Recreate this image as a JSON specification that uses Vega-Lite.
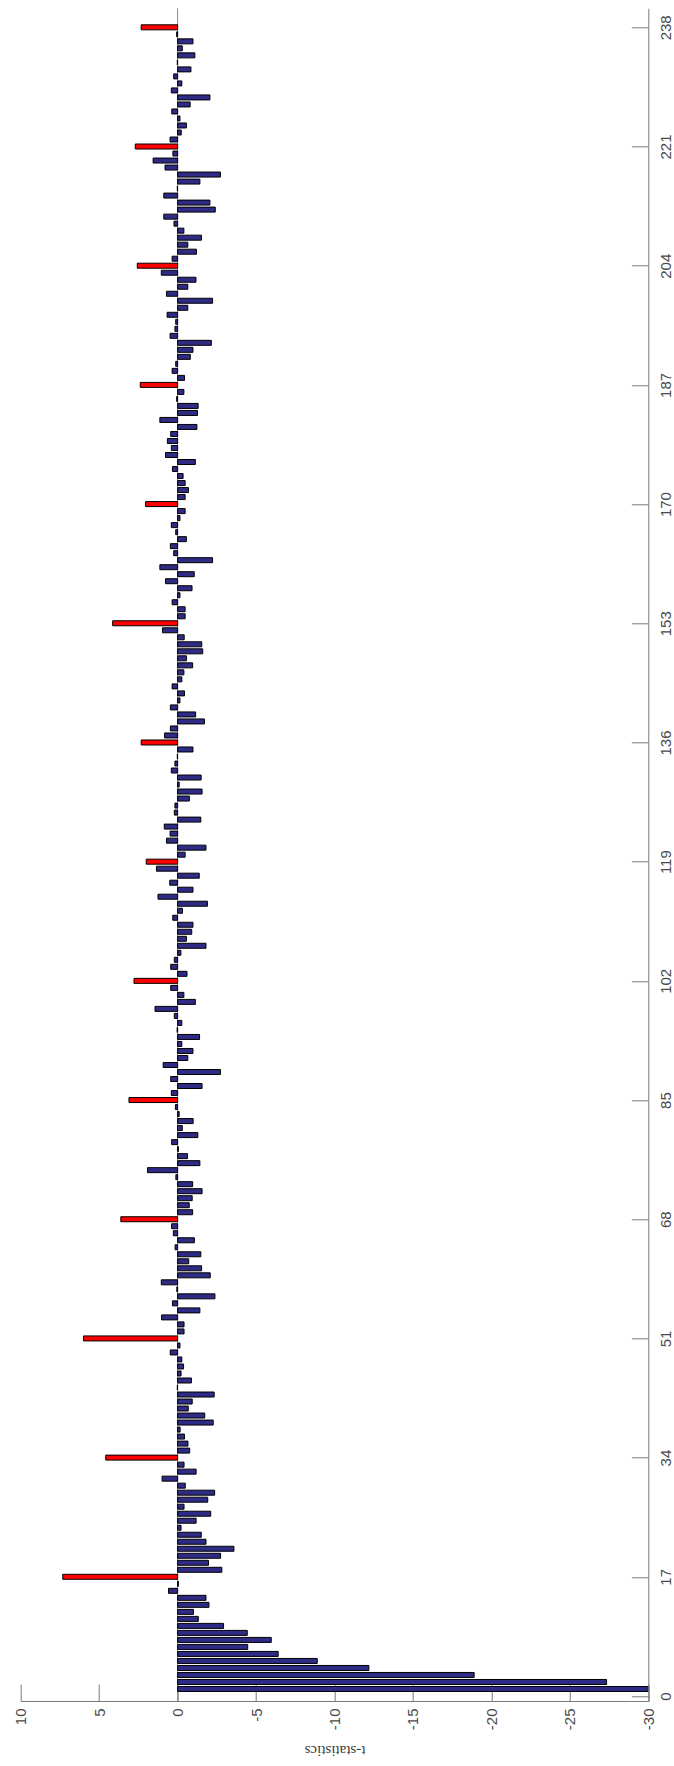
{
  "$schema": "https://vega.github.io/schema/vega-lite/v6.json",
  "autosize": {"type": "none"},
  "width": 627.6,
  "height": 1692.7,
  "padding": {"left": 20.7, "top": 8.3, "right": 25.7, "bottom": 65},
  "background": "white",
  "config": {"view": {"stroke": null}, "axis": {"grid": false}},
  "data": {
    "values": [
      {"lag": 1, "t": -30, "kind": "other"},
      {"lag": 2, "t": -27.34, "kind": "other"},
      {"lag": 3, "t": -18.9, "kind": "other"},
      {"lag": 4, "t": -12.19, "kind": "other"},
      {"lag": 5, "t": -8.9, "kind": "other"},
      {"lag": 6, "t": -6.41, "kind": "other"},
      {"lag": 7, "t": -4.47, "kind": "other"},
      {"lag": 8, "t": -5.97, "kind": "other"},
      {"lag": 9, "t": -4.44, "kind": "other"},
      {"lag": 10, "t": -2.93, "kind": "other"},
      {"lag": 11, "t": -1.32, "kind": "other"},
      {"lag": 12, "t": -1.01, "kind": "other"},
      {"lag": 13, "t": -2.0, "kind": "other"},
      {"lag": 14, "t": -1.81, "kind": "other"},
      {"lag": 15, "t": 0.58, "kind": "other"},
      {"lag": 16, "t": -0.05, "kind": "other"},
      {"lag": 17, "t": 7.32, "kind": "seasonal"},
      {"lag": 18, "t": -2.82, "kind": "other"},
      {"lag": 19, "t": -1.97, "kind": "other"},
      {"lag": 20, "t": -2.74, "kind": "other"},
      {"lag": 21, "t": -3.59, "kind": "other"},
      {"lag": 22, "t": -1.81, "kind": "other"},
      {"lag": 23, "t": -1.51, "kind": "other"},
      {"lag": 24, "t": -0.22, "kind": "other"},
      {"lag": 25, "t": -1.18, "kind": "other"},
      {"lag": 26, "t": -2.11, "kind": "other"},
      {"lag": 27, "t": -0.41, "kind": "other"},
      {"lag": 28, "t": -1.92, "kind": "other"},
      {"lag": 29, "t": -2.36, "kind": "other"},
      {"lag": 30, "t": -0.49, "kind": "other"},
      {"lag": 31, "t": 0.99, "kind": "other"},
      {"lag": 32, "t": -1.18, "kind": "other"},
      {"lag": 33, "t": -0.41, "kind": "other"},
      {"lag": 34, "t": 4.58, "kind": "seasonal"},
      {"lag": 35, "t": -0.77, "kind": "other"},
      {"lag": 36, "t": -0.66, "kind": "other"},
      {"lag": 37, "t": -0.44, "kind": "other"},
      {"lag": 38, "t": -0.16, "kind": "other"},
      {"lag": 39, "t": -2.27, "kind": "other"},
      {"lag": 40, "t": -1.73, "kind": "other"},
      {"lag": 41, "t": -0.68, "kind": "other"},
      {"lag": 42, "t": -0.93, "kind": "other"},
      {"lag": 43, "t": -2.33, "kind": "other"},
      {"lag": 44, "t": 0.02, "kind": "other"},
      {"lag": 45, "t": -0.88, "kind": "other"},
      {"lag": 46, "t": -0.22, "kind": "other"},
      {"lag": 47, "t": -0.38, "kind": "other"},
      {"lag": 48, "t": -0.27, "kind": "other"},
      {"lag": 49, "t": 0.47, "kind": "other"},
      {"lag": 50, "t": -0.15, "kind": "other"},
      {"lag": 51, "t": 6.0, "kind": "seasonal"},
      {"lag": 52, "t": -0.41, "kind": "other"},
      {"lag": 53, "t": -0.41, "kind": "other"},
      {"lag": 54, "t": 1.02, "kind": "other"},
      {"lag": 55, "t": -1.42, "kind": "other"},
      {"lag": 56, "t": 0.33, "kind": "other"},
      {"lag": 57, "t": -2.38, "kind": "other"},
      {"lag": 58, "t": 0.05, "kind": "other"},
      {"lag": 59, "t": 1.04, "kind": "other"},
      {"lag": 60, "t": -2.08, "kind": "other"},
      {"lag": 61, "t": -1.53, "kind": "other"},
      {"lag": 62, "t": -0.71, "kind": "other"},
      {"lag": 63, "t": -1.48, "kind": "other"},
      {"lag": 64, "t": 0.16, "kind": "other"},
      {"lag": 65, "t": -1.07, "kind": "other"},
      {"lag": 66, "t": 0.27, "kind": "other"},
      {"lag": 67, "t": 0.38, "kind": "other"},
      {"lag": 68, "t": 3.62, "kind": "seasonal"},
      {"lag": 69, "t": -0.96, "kind": "other"},
      {"lag": 70, "t": -0.74, "kind": "other"},
      {"lag": 71, "t": -0.93, "kind": "other"},
      {"lag": 72, "t": -1.56, "kind": "other"},
      {"lag": 73, "t": -0.96, "kind": "other"},
      {"lag": 74, "t": 0.11, "kind": "other"},
      {"lag": 75, "t": 1.92, "kind": "other"},
      {"lag": 76, "t": -1.42, "kind": "other"},
      {"lag": 77, "t": -0.63, "kind": "other"},
      {"lag": 78, "t": -0.05, "kind": "other"},
      {"lag": 79, "t": 0.38, "kind": "other"},
      {"lag": 80, "t": -1.29, "kind": "other"},
      {"lag": 81, "t": -0.3, "kind": "other"},
      {"lag": 82, "t": -0.99, "kind": "other"},
      {"lag": 83, "t": -0.1, "kind": "other"},
      {"lag": 84, "t": 0.14, "kind": "other"},
      {"lag": 85, "t": 3.1, "kind": "seasonal"},
      {"lag": 86, "t": 0.4, "kind": "other"},
      {"lag": 87, "t": -1.56, "kind": "other"},
      {"lag": 88, "t": 0.44, "kind": "other"},
      {"lag": 89, "t": -2.73, "kind": "other"},
      {"lag": 90, "t": 0.92, "kind": "other"},
      {"lag": 91, "t": -0.65, "kind": "other"},
      {"lag": 92, "t": -0.98, "kind": "other"},
      {"lag": 93, "t": -0.27, "kind": "other"},
      {"lag": 94, "t": -1.4, "kind": "other"},
      {"lag": 95, "t": 0.03, "kind": "other"},
      {"lag": 96, "t": -0.27, "kind": "other"},
      {"lag": 97, "t": 0.21, "kind": "other"},
      {"lag": 98, "t": 1.44, "kind": "other"},
      {"lag": 99, "t": -1.13, "kind": "other"},
      {"lag": 100, "t": -0.4, "kind": "other"},
      {"lag": 101, "t": 0.44, "kind": "other"},
      {"lag": 102, "t": 2.78, "kind": "seasonal"},
      {"lag": 103, "t": -0.6, "kind": "other"},
      {"lag": 104, "t": 0.44, "kind": "other"},
      {"lag": 105, "t": 0.21, "kind": "other"},
      {"lag": 106, "t": -0.21, "kind": "other"},
      {"lag": 107, "t": -1.81, "kind": "other"},
      {"lag": 108, "t": -0.56, "kind": "other"},
      {"lag": 109, "t": -0.9, "kind": "other"},
      {"lag": 110, "t": -0.98, "kind": "other"},
      {"lag": 111, "t": 0.31, "kind": "other"},
      {"lag": 112, "t": -0.31, "kind": "other"},
      {"lag": 113, "t": -1.9, "kind": "other"},
      {"lag": 114, "t": 1.25, "kind": "other"},
      {"lag": 115, "t": -0.98, "kind": "other"},
      {"lag": 116, "t": 0.5, "kind": "other"},
      {"lag": 117, "t": -1.38, "kind": "other"},
      {"lag": 118, "t": 1.35, "kind": "other"},
      {"lag": 119, "t": 2.0, "kind": "seasonal"},
      {"lag": 120, "t": -0.48, "kind": "other"},
      {"lag": 121, "t": -1.81, "kind": "other"},
      {"lag": 122, "t": 0.71, "kind": "other"},
      {"lag": 123, "t": 0.48, "kind": "other"},
      {"lag": 124, "t": 0.85, "kind": "other"},
      {"lag": 125, "t": -1.48, "kind": "other"},
      {"lag": 126, "t": 0.21, "kind": "other"},
      {"lag": 127, "t": 0.17, "kind": "other"},
      {"lag": 128, "t": -0.75, "kind": "other"},
      {"lag": 129, "t": -1.56, "kind": "other"},
      {"lag": 130, "t": -0.1, "kind": "other"},
      {"lag": 131, "t": -1.5, "kind": "other"},
      {"lag": 132, "t": 0.4, "kind": "other"},
      {"lag": 133, "t": 0.17, "kind": "other"},
      {"lag": 134, "t": 0.02, "kind": "other"},
      {"lag": 135, "t": -0.98, "kind": "other"},
      {"lag": 136, "t": 2.32, "kind": "seasonal"},
      {"lag": 137, "t": 0.83, "kind": "other"},
      {"lag": 138, "t": 0.46, "kind": "other"},
      {"lag": 139, "t": -1.71, "kind": "other"},
      {"lag": 140, "t": -1.15, "kind": "other"},
      {"lag": 141, "t": 0.46, "kind": "other"},
      {"lag": 142, "t": -0.15, "kind": "other"},
      {"lag": 143, "t": -0.44, "kind": "other"},
      {"lag": 144, "t": 0.35, "kind": "other"},
      {"lag": 145, "t": -0.27, "kind": "other"},
      {"lag": 146, "t": -0.4, "kind": "other"},
      {"lag": 147, "t": -0.96, "kind": "other"},
      {"lag": 148, "t": -0.56, "kind": "other"},
      {"lag": 149, "t": -1.6, "kind": "other"},
      {"lag": 150, "t": -1.54, "kind": "other"},
      {"lag": 151, "t": -0.42, "kind": "other"},
      {"lag": 152, "t": 0.96, "kind": "other"},
      {"lag": 153, "t": 4.14, "kind": "seasonal"},
      {"lag": 154, "t": -0.48, "kind": "other"},
      {"lag": 155, "t": -0.48, "kind": "other"},
      {"lag": 156, "t": 0.35, "kind": "other"},
      {"lag": 157, "t": -0.15, "kind": "other"},
      {"lag": 158, "t": -0.92, "kind": "other"},
      {"lag": 159, "t": 0.77, "kind": "other"},
      {"lag": 160, "t": -1.06, "kind": "other"},
      {"lag": 161, "t": 1.13, "kind": "other"},
      {"lag": 162, "t": -2.23, "kind": "other"},
      {"lag": 163, "t": 0.25, "kind": "other"},
      {"lag": 164, "t": 0.46, "kind": "other"},
      {"lag": 165, "t": -0.56, "kind": "other"},
      {"lag": 166, "t": 0.12, "kind": "other"},
      {"lag": 167, "t": 0.4, "kind": "other"},
      {"lag": 168, "t": -0.15, "kind": "other"},
      {"lag": 169, "t": -0.48, "kind": "other"},
      {"lag": 170, "t": 2.04, "kind": "seasonal"},
      {"lag": 171, "t": -0.48, "kind": "other"},
      {"lag": 172, "t": -0.69, "kind": "other"},
      {"lag": 173, "t": -0.48, "kind": "other"},
      {"lag": 174, "t": -0.35, "kind": "other"},
      {"lag": 175, "t": 0.33, "kind": "other"},
      {"lag": 176, "t": -1.13, "kind": "other"},
      {"lag": 177, "t": 0.77, "kind": "other"},
      {"lag": 178, "t": 0.4, "kind": "other"},
      {"lag": 179, "t": 0.65, "kind": "other"},
      {"lag": 180, "t": 0.44, "kind": "other"},
      {"lag": 181, "t": -1.23, "kind": "other"},
      {"lag": 182, "t": 1.13, "kind": "other"},
      {"lag": 183, "t": -1.27, "kind": "other"},
      {"lag": 184, "t": -1.31, "kind": "other"},
      {"lag": 185, "t": 0.06, "kind": "other"},
      {"lag": 186, "t": -0.4, "kind": "other"},
      {"lag": 187, "t": 2.38, "kind": "seasonal"},
      {"lag": 188, "t": -0.44, "kind": "other"},
      {"lag": 189, "t": 0.35, "kind": "other"},
      {"lag": 190, "t": 0.12, "kind": "other"},
      {"lag": 191, "t": -0.81, "kind": "other"},
      {"lag": 192, "t": -0.98, "kind": "other"},
      {"lag": 193, "t": -2.15, "kind": "other"},
      {"lag": 194, "t": 0.48, "kind": "other"},
      {"lag": 195, "t": 0.17, "kind": "other"},
      {"lag": 196, "t": 0.12, "kind": "other"},
      {"lag": 197, "t": 0.67, "kind": "other"},
      {"lag": 198, "t": -0.65, "kind": "other"},
      {"lag": 199, "t": -2.23, "kind": "other"},
      {"lag": 200, "t": 0.71, "kind": "other"},
      {"lag": 201, "t": -0.65, "kind": "other"},
      {"lag": 202, "t": -1.17, "kind": "other"},
      {"lag": 203, "t": 1.04, "kind": "other"},
      {"lag": 204, "t": 2.57, "kind": "seasonal"},
      {"lag": 205, "t": 0.35, "kind": "other"},
      {"lag": 206, "t": -1.2, "kind": "other"},
      {"lag": 207, "t": -0.65, "kind": "other"},
      {"lag": 208, "t": -1.52, "kind": "other"},
      {"lag": 209, "t": -0.4, "kind": "other"},
      {"lag": 210, "t": 0.23, "kind": "other"},
      {"lag": 211, "t": 0.88, "kind": "other"},
      {"lag": 212, "t": -2.4, "kind": "other"},
      {"lag": 213, "t": -2.06, "kind": "other"},
      {"lag": 214, "t": 0.88, "kind": "other"},
      {"lag": 215, "t": 0.02, "kind": "other"},
      {"lag": 216, "t": -1.42, "kind": "other"},
      {"lag": 217, "t": -2.73, "kind": "other"},
      {"lag": 218, "t": 0.8, "kind": "other"},
      {"lag": 219, "t": 1.56, "kind": "other"},
      {"lag": 220, "t": 0.3, "kind": "other"},
      {"lag": 221, "t": 2.7, "kind": "seasonal"},
      {"lag": 222, "t": 0.48, "kind": "other"},
      {"lag": 223, "t": -0.23, "kind": "other"},
      {"lag": 224, "t": -0.56, "kind": "other"},
      {"lag": 225, "t": -0.15, "kind": "other"},
      {"lag": 226, "t": 0.37, "kind": "other"},
      {"lag": 227, "t": -0.8, "kind": "other"},
      {"lag": 228, "t": -2.06, "kind": "other"},
      {"lag": 229, "t": 0.4, "kind": "other"},
      {"lag": 230, "t": -0.27, "kind": "other"},
      {"lag": 231, "t": 0.25, "kind": "other"},
      {"lag": 232, "t": -0.85, "kind": "other"},
      {"lag": 233, "t": 0.02, "kind": "other"},
      {"lag": 234, "t": -1.1, "kind": "other"},
      {"lag": 235, "t": -0.3, "kind": "other"},
      {"lag": 236, "t": -0.98, "kind": "other"},
      {"lag": 237, "t": 0.06, "kind": "other"},
      {"lag": 238, "t": 2.32, "kind": "seasonal"}
    ]
  },
  "layer": [
    {
      "data": {"values": [{"t": 0}]},
      "mark": {"type": "rule", "color": "#8a8a8a", "strokeWidth": 1},
      "encoding": {
        "x": {"field": "t", "type": "quantitative", "scale": {"domain": [-30, 10], "reverse": true, "nice": false}}
      }
    },
    {
      "mark": {"type": "bar", "orient": "horizontal", "size": 5, "stroke": "#000000", "strokeWidth": 1, "clip": true},
      "encoding": {
        "y": {
          "field": "lag",
          "type": "quantitative",
          "scale": {"domain": [0, 240], "nice": false, "zero": true},
          "axis": {
            "orient": "right",
            "values": [0, 17, 34, 51, 68, 85, 102, 119, 136, 153, 170, 187, 204, 221, 238],
            "labelAngle": -90,
            "labelAlign": "center",
            "labelBaseline": "middle",
            "labelPadding": 34,
            "labelFont": "Liberation Sans",
            "labelFontSize": 15,
            "labelColor": "#4a4a4a",
            "tickSize": -17,
            "tickColor": "#7a7a7a",
            "domainColor": "#7a7a7a",
            "title": null
          }
        },
        "x": {
          "field": "t",
          "type": "quantitative",
          "scale": {"domain": [-30, 10], "reverse": true, "nice": false},
          "axis": {
            "orient": "bottom",
            "values": [10, 5, 0, -5, -10, -15, -20, -25, -30],
            "labelExpr": "'' + datum.value",
            "labelAngle": -90,
            "labelAlign": "right",
            "labelBaseline": "middle",
            "labelPadding": 24,
            "labelFont": "Liberation Sans",
            "labelFontSize": 15,
            "labelColor": "#4a4a4a",
            "tickSize": -17,
            "tickColor": "#7a7a7a",
            "domainColor": "#7a7a7a",
            "title": "t-statistics",
            "titleFont": "Liberation Serif",
            "titleFontSize": 15,
            "titleFontWeight": "normal",
            "titleColor": "#3a3a3a",
            "titleAngle": 180,
            "titleAlign": "center",
            "titleBaseline": "middle",
            "titleY": 49
          }
        },
        "color": {
          "field": "kind",
          "type": "nominal",
          "scale": {"domain": ["other", "seasonal"], "range": ["#2e2b85", "#ff0000"]},
          "legend": null
        }
      }
    }
  ]
}
